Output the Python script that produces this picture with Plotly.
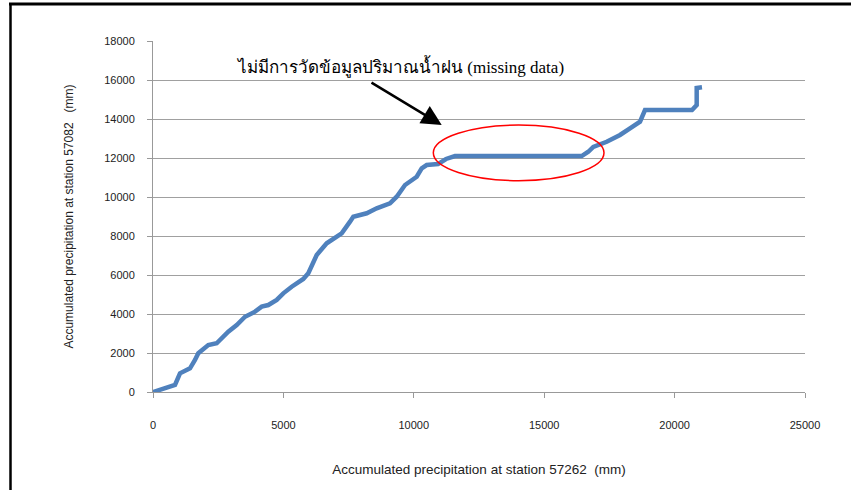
import plotly.graph_objects as go

# Accumulated precipitation (mm)
x_57262 = [0, 395, 844, 1035, 1419, 1610, 1737, 2120, 2442, 2887, 3210, 3528, 3911,
           4168, 4421, 4743, 4996, 5318, 5763, 5955, 6085, 6277, 6660, 6913, 7235,
           7554, 7680, 8194, 8577, 9087, 9344, 9663, 10112, 10303, 10495, 10928,
           11235, 11580, 16438, 16691, 16883, 17397, 17907, 18290, 18674, 18865,
           20667, 20847, 20847, 21050]
y_57082 = [0, 190, 360, 960, 1215, 1640, 1985, 2410, 2500, 3090, 3435, 3860, 4120,
           4375, 4460, 4720, 5060, 5400, 5795, 6090, 6510, 7025, 7625, 7880, 8140,
           8735, 8990, 9165, 9420, 9675, 10015, 10615, 11040, 11470, 11640, 11690,
           11950, 12100, 12100, 12320, 12565, 12835, 13180, 13525, 13860, 14460,
           14460, 14715, 15590, 15625]

x_ticks = [0, 5000, 10000, 15000, 20000, 25000]
y_ticks = [0, 2000, 4000, 6000, 8000, 10000, 12000, 14000, 16000, 18000]

note_text = "ไม่มีการวัดข้อมูลปริมาณน้ำฝน (missing data)"
x_title = "Accumulated precipitation at station 57262  (mm)"
y_title = "Accumulated precipitation at station 57082   (mm)"

fig = go.Figure()
fig.add_trace(go.Scatter(
    x=x_57262, y=y_57082, mode="lines",
    line=dict(color="#4F81BD", width=4.5), showlegend=False,
))

W, H = 851, 490
L, R, T, B = 153, 46, 41, 98
pw, ph = W - L - R, H - T - B


def px(xp):
    return (xp - L) / pw


def py(yp):
    return (H - B - yp) / ph


axis_font = dict(family="Liberation Sans, Arial, sans-serif", size=11, color="#222222")

fig.update_layout(
    width=W, height=H,
    margin=dict(l=L, r=R, t=T, b=B),
    paper_bgcolor="white", plot_bgcolor="white",
    font=axis_font,
    xaxis=dict(
        range=[0, 25000], tickvals=x_ticks, ticktext=[str(v) for v in x_ticks],
        showgrid=False, zeroline=False, showline=True, linecolor="#999999", linewidth=1,
        ticks="outside", ticklen=5, tickcolor="#999999", ticklabelstandoff=18,
        title=dict(text=x_title, font=dict(family="Liberation Sans, Arial, sans-serif",
                                           size=13.5, color="#222222"), standoff=34),
    ),
    yaxis=dict(
        range=[0, 18000], tickvals=y_ticks, ticktext=[str(v) for v in y_ticks],
        showgrid=True, gridcolor="#A0A0A0", gridwidth=1,
        zeroline=False, showline=True, linecolor="#999999", linewidth=1,
        ticks="outside", ticklen=5, tickcolor="#999999", ticklabelstandoff=10,
        title=dict(text=y_title, font=dict(family="Liberation Sans, Arial, sans-serif",
                                           size=12, color="#222222"), standoff=28),
    ),
)

# red ellipse around the flat (missing) segment
fig.add_shape(type="circle", xref="x", yref="y",
              x0=10748, x1=17293, y0=10836, y1=13692,
              line=dict(color="#FF0000", width=1.5))

# arrow
fig.add_annotation(x=11070, y=13692, ax=8320, ay=15913, xref="x", yref="y",
                   axref="x", ayref="y", showarrow=True, arrowhead=2,
                   arrowsize=1.6, arrowwidth=2.5, arrowcolor="#000000", text="")

# note text
fig.add_annotation(x=9471, y=16667, xref="x", yref="y", showarrow=False,
                   text=note_text, xanchor="center", yanchor="middle",
                   font=dict(family="Liberation Serif, Times New Roman, serif", size=17, color="#000000"))

# image frame (top and left black border)
fig.add_shape(type="line", xref="paper", yref="paper",
              x0=px(10.5), x1=px(10.5), y0=py(490), y1=py(4),
              line=dict(color="#000000", width=2.5))
fig.add_shape(type="line", xref="paper", yref="paper",
              x0=px(9), x1=px(851), y0=py(4), y1=py(4),
              line=dict(color="#000000", width=3))

fig.write_html("out.html", config={"displayModeBar": False},
               post_script="document.body.style.margin='0';")
